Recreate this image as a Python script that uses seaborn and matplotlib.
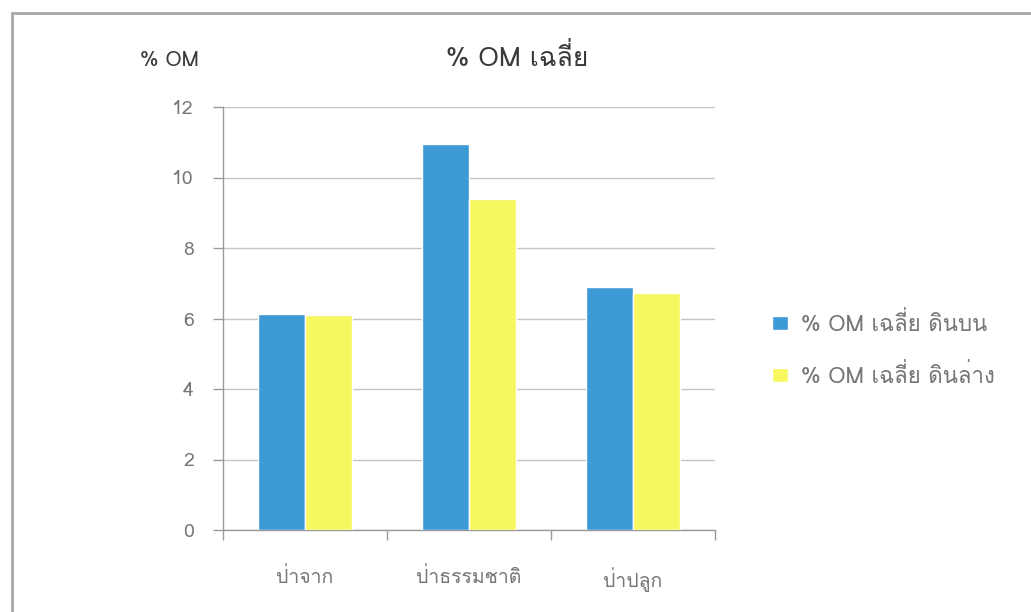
import matplotlib
matplotlib.use("Agg")
import matplotlib.pyplot as plt
from matplotlib.patches import Rectangle
import seaborn as sns
import pandas as pd

categories = ["ป่าจาก", "ป่าธรรมชาติ", "ป่าปลูก"]
series_names = ["% OM เฉลี่ย ดินบน", "% OM เฉลี่ย ดินล่าง"]
topsoil = [6.14, 10.95, 6.89]
subsoil = [6.10, 9.39, 6.72]
y_ticks = [0, 2, 4, 6, 8, 10, 12]
title = "% OM เฉลี่ย"
y_label = "% OM"

sns.set_theme(style="white")
FONT = ["Loma", "DejaVu Sans"]
plt.rcParams["font.family"] = FONT

df = pd.DataFrame({
    "cat": categories * 2,
    "val": topsoil + subsoil,
    "series": [series_names[0]] * 3 + [series_names[1]] * 3,
})

W, H = 1031, 612
fig = plt.figure(figsize=(W / 100, H / 100), dpi=100)
fig.patch.set_facecolor("white")
ax = fig.add_axes([223 / W, 1 - 530 / H, (715 - 223) / W, (530 - 107) / H])

palette = {series_names[0]: "#3d9ad6", series_names[1]: "#f7f760"}
sns.barplot(data=df, x="cat", y="val", hue="series", order=categories,
            hue_order=series_names, palette=palette, width=0.573, gap=0,
            saturation=1, ax=ax, zorder=3)

ax.set_xlim(-0.5, 2.5)
ax.set_ylim(0, 12)
ax.set_yticks(y_ticks)
ax.set_xlabel("")
ax.set_ylabel("")
ax.set_facecolor("none")

tick_col = "#767676"
ax.yaxis.grid(True, color="#c4c4c4", linewidth=1.0, zorder=0)
ax.set_axisbelow(True)
for s in ["top", "right"]:
    ax.spines[s].set_visible(False)
for s in ["left", "bottom"]:
    ax.spines[s].set_visible(True)
    ax.spines[s].set_color("#9a9a9a")
    ax.spines[s].set_linewidth(1.0)

ax.tick_params(axis="y", which="major", direction="out", length=7, width=1,
               color="#9a9a9a", labelsize=14, labelcolor=tick_col, pad=14, left=True)
ax.tick_params(axis="x", which="major", length=0, labelsize=14,
               labelcolor=tick_col, pad=27)
ax.set_xticks([-0.5, 0.5, 1.5, 2.5], minor=True)
ax.tick_params(axis="x", which="minor", direction="out", length=7, width=1,
               color="#9a9a9a", bottom=True)

handles, labels = ax.get_legend_handles_labels()
lg = ax.get_legend()
if lg is not None:
    lg.remove()
fig.legend(handles, labels, loc="center left", bbox_to_anchor=(752 / W, 1 - 350 / H),
           frameon=False, fontsize=16, labelcolor=tick_col, handlelength=0.7,
           handleheight=0.6, handletextpad=0.6, labelspacing=1.25)

fig.text(517 / W, 1 - 57 / H, title, ha="center", va="center", fontsize=19,
         color="#3a3a3a")
fig.text(140 / W, 1 - 60 / H, y_label, ha="left", va="center", fontsize=15,
         color="#3a3a3a")

frame = Rectangle((12 / W, -0.2), 1.5, (1 - 13 / H) + 0.2, transform=fig.transFigure,
                  fill=False, edgecolor="#a8a8a8", linewidth=2, clip_on=False)
fig.patches.append(frame)

fig.savefig("out.png", dpi=100)
